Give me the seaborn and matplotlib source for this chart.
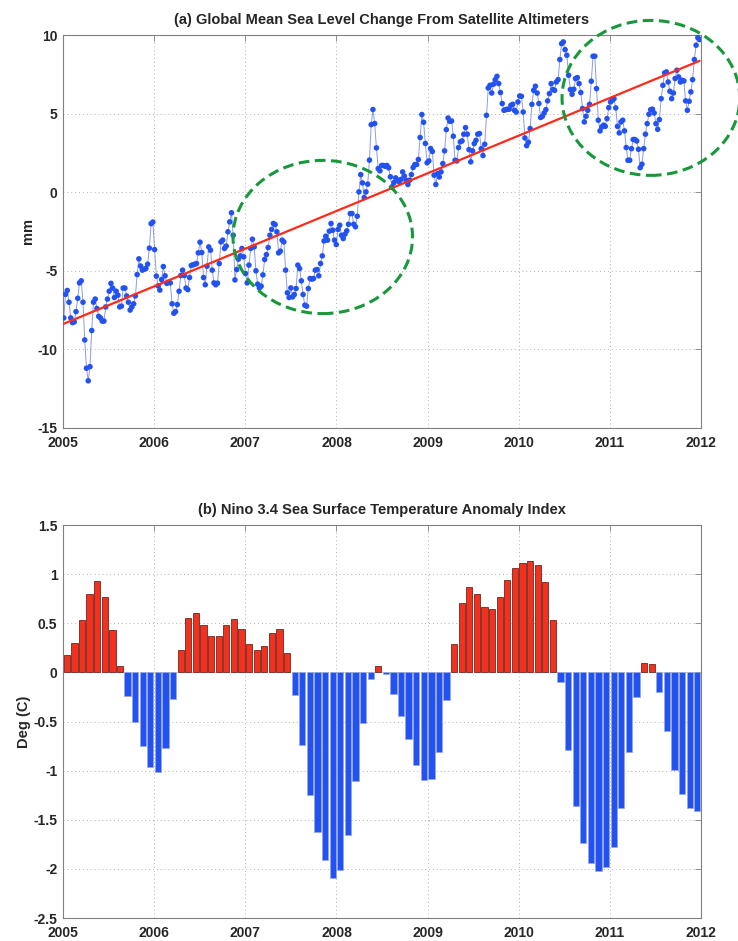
import numpy as np
import pandas as pd
import matplotlib
matplotlib.use("Agg")
import matplotlib.pyplot as plt
import seaborn as sns
from matplotlib.patches import Ellipse
from matplotlib.ticker import FuncFormatter

# --- Datos: nivel medio del mar (mm), muestras semanales desde 2005 ---
sea_level_mm = [
    -8.0, -6.5, -6.25, -7.0, -8.0, -8.3, -8.25, -7.6, -6.75, -5.77,
    -5.64, -7.0, -9.4, -11.2, -12.0, -11.1, -8.8, -7.0, -6.8, -7.4,
    -7.9, -8.0, -8.2, -8.2, -7.3, -6.8, -6.3, -5.8, -6.1, -6.7,
    -6.3, -6.55, -7.3, -7.25, -6.1, -6.1, -6.6, -7.0, -7.5, -7.3,
    -7.1, -6.6, -5.24, -4.24, -4.7, -4.96, -4.9, -4.86, -4.58, -3.56,
    -2.0, -1.9, -3.65, -5.34, -5.96, -6.23, -5.56, -4.73, -5.32, -5.8,
    -5.73, -5.77, -7.1, -7.7, -7.6, -7.15, -6.3, -5.3, -4.96, -5.3,
    -6.1, -6.2,
    -5.43, -4.66, -4.62, -4.58, -4.54, -3.86, -3.18, -3.84, -5.43, -5.89,
    -4.71, -3.48, -3.69, -4.96, -5.77, -5.89, -5.79, -4.54, -3.16, -3.05,
    -3.58, -3.43, -2.52, -1.89, -1.31, -2.74, -5.58, -4.92, -4.26, -4.05,
    -3.58, -4.11, -5.17, -5.77, -4.64, -3.58, -2.99, -3.48, -5.0, -5.85,
    -6.09, -5.98, -5.26, -4.28, -3.97, -3.52, -2.74, -2.37, -1.99, -2.06,
    -2.52, -3.86, -3.75, -3.05, -3.16, -4.96, -6.4, -6.7, -6.09, -6.66,
    -6.51, -6.13, -4.64, -4.86, -5.64, -6.51, -7.19, -7.25, -6.13, -5.49,
    -5.53, -5.49,
    -4.96, -4.92, -5.32, -4.54,
    -4.05, -3.1, -2.8, -3.05, -2.48, -1.99, -2.42, -3.05, -3.33, -2.37,
    -2.1, -2.74, -2.95, -2.67, -2.46, -2.04, -1.36, -1.36, -2.04, -2.2,
    -1.53, 0.02, 1.12, 0.59, -0.34, 0.02, 0.51, 2.04, 4.3, 5.26,
    4.37, 2.82, 1.5, 1.36, 1.7, 1.7, 1.65, 1.7, 1.55, 0.98,
    0.34, 0.61, 0.91, 0.76, 0.66, 0.81, 1.29, 1.02, 0.76, 0.49,
    0.76, 1.12, 1.57, 1.76, 1.76, 2.08, 3.48, 4.94, 4.45, 3.1,
    1.87, 1.99, 2.78, 2.59, 1.08, 0.49,
    1.18, 0.97, 1.29, 1.82, 2.63, 3.98, 4.72, 4.51, 4.53, 3.56,
    2.03, 1.99, 2.84, 3.2, 3.26, 3.69, 4.11, 3.69, 2.71, 1.93,
    2.63, 3.09, 3.3, 3.69, 3.73, 2.77, 2.33, 3.05, 4.89, 6.63,
    6.8, 6.31, 6.87, 7.16, 7.37, 6.91, 6.34, 5.64, 5.21, 5.25,
    5.28, 5.28, 5.53, 5.59, 5.21, 5.1, 5.74, 6.12, 6.1, 5.1,
    3.45, 2.96, 3.18, 4.05, 5.59, 6.48, 6.74, 6.31, 5.64, 4.75,
    4.83, 5.04, 5.25, 5.81, 6.27, 6.91, 6.53, 6.48, 7.01, 7.16,
    8.44, 9.45, 9.56, 9.07,
    8.71, 7.44, 6.53, 6.23, 6.55, 7.23, 7.29, 6.91, 6.34, 5.32,
    4.47, 4.83, 5.21, 5.59, 7.06, 8.65, 8.65, 6.59, 4.58, 3.9,
    4.15, 4.26, 4.19, 4.68, 5.38, 5.74, 5.85, 5.95, 5.36, 4.19,
    3.77, 4.47, 4.58, 3.9, 2.84, 2.03, 2.03, 2.77, 3.35, 3.35,
    3.26, 2.73, 1.56, 1.78, 2.77, 3.69, 4.36, 4.96, 5.25, 5.28,
    5.04, 4.36, 4.0, 4.62, 5.95, 6.8, 7.59, 7.65, 7.01, 6.42,
    5.95, 6.31, 7.23, 7.76, 7.33, 7.01, 7.12, 7.08, 5.81, 5.21,
    5.78, 6.38, 7.16, 8.44, 9.35, 9.83, 9.71,
]

# --- Datos: indice Nino 3.4 mensual (C), ene 2005 - dic 2011 ---
nino34_anom = [
    0.18, 0.30, 0.53, 0.80, 0.93, 0.77, 0.43, 0.07, -0.24, -0.50, -0.75, -0.96,
    -1.01, -0.77, -0.27, 0.23, 0.55, 0.60, 0.48, 0.37, 0.37, 0.48, 0.54, 0.44,
    0.29, 0.23, 0.27, 0.40, 0.44, 0.20, -0.23, -0.74, -1.25, -1.62, -1.91, -2.09,
    -2.01, -1.65, -1.11, -0.51, -0.07, 0.07, -0.02, -0.22, -0.44, -0.68, -0.94, -1.09,
    -1.08, -0.81, -0.28, 0.29, 0.71, 0.87, 0.80, 0.67, 0.65, 0.77, 0.94, 1.06,
    1.11, 1.13, 1.09, 0.92, 0.53, -0.10, -0.79, -1.36, -1.74, -1.94, -2.02, -1.98,
    -1.78, -1.38, -0.81, -0.25, 0.10, 0.085, -0.20, -0.60, -0.99, -1.24, -1.38, -1.41,
]

year_ticks = [2005, 2006, 2007, 2008, 2009, 2010, 2011, 2012]

# --- Tablas ---
fechas = pd.date_range("2005-01-04", periods=len(sea_level_mm), freq="7D")
df_sl = pd.DataFrame({
    "t": 2005 + (fechas - pd.Timestamp("2005-01-01")).days / 365.25,
    "mm": sea_level_mm,
})
meses = pd.date_range("2005-01-01", periods=len(nino34_anom), freq="MS")
df_nino = pd.DataFrame({
    "t": meses.year + (meses.month - 0.5) / 12,
    "anom": nino34_anom,
})
df_nino["signo"] = np.where(df_nino["anom"] >= 0, "pos", "neg")

# --- Estilo ---
sns.set_style("white")
plt.rcParams["font.family"] = ["Liberation Sans", "DejaVu Sans"]
plt.rcParams["font.weight"] = "bold"
plt.rcParams["axes.unicode_minus"] = False

AZUL = "#2352f2"
ROJO = "#f4311f"
VERDE = "#17983a"
GRIS = "#808080"

fig = plt.figure(figsize=(7.38, 9.41), dpi=100)
ax1 = fig.add_axes([0.0854, 0.5452, 0.8645, 0.4176])
ax2 = fig.add_axes([0.0854, 0.0244, 0.8645, 0.4176])

# --- (a) nivel del mar ---
sns.lineplot(data=df_sl, x="t", y="mm", color="#8c9ce6", linewidth=0.7, ax=ax1, zorder=2)
sns.scatterplot(data=df_sl, x="t", y="mm", color=AZUL, s=16, edgecolor="none", ax=ax1, zorder=3)
sns.regplot(data=df_sl, x="t", y="mm", scatter=False, ci=None, truncate=True,
            line_kws=dict(color="#ff2a1a", lw=1.6, zorder=4), ax=ax1)

# elipses que marcan los dos periodos
for cx, cy, w, h in [(2007.85, -2.85, 1.97, 9.75), (2011.45, 6.0, 1.95, 9.86)]:
    ax1.add_patch(Ellipse((cx, cy), w, h, fill=False, edgecolor=VERDE, lw=2.2,
                          linestyle=(0, (3.5, 1.8)), clip_on=False, zorder=5))

ax1.set_xlim(2005, 2012)
ax1.set_ylim(-15, 10)
ax1.set_yticks([-15, -10, -5, 0, 5, 10])
ax1.set_ylabel("mm", fontsize=10.5, fontweight="bold", labelpad=2)
ax1.set_title("(a) Global Mean Sea Level Change From Satellite Altimeters",
              fontsize=10.5, fontweight="bold", pad=8)

# --- (b) Nino 3.4 ---
sns.barplot(data=df_nino, x="t", y="anom", hue="signo", palette={"pos": ROJO, "neg": AZUL},
            native_scale=True, dodge=False, width=0.82, errorbar=None, saturation=1,
            legend=False, ax=ax2, zorder=3)
for barra in ax2.patches:
    if barra.get_height() > 0:
        barra.set_edgecolor("#6b2a22")
        barra.set_linewidth(0.6)
    else:
        barra.set_edgecolor("#9aa6dc")
        barra.set_linewidth(0.5)

ax2.set_xlim(2005, 2012)
ax2.set_ylim(-2.5, 1.5)
ax2.set_yticks(np.arange(-2.5, 1.51, 0.5))
ax2.yaxis.set_major_formatter(FuncFormatter(lambda v, p: f"{v:g}"))
ax2.set_ylabel("Deg (C)", fontsize=10.5, fontweight="bold", labelpad=2)
ax2.set_title("(b) Nino 3.4 Sea Surface Temperature Anomaly Index",
              fontsize=10.5, fontweight="bold", pad=8)

for ax in (ax1, ax2):
    ax.set_xticks(year_ticks)
    ax.set_xlabel("")
    ax.grid(True, linestyle=(0, (1, 3)), color="#b0b0b0", linewidth=0.7)
    ax.set_axisbelow(True)
    ax.tick_params(direction="in", top=True, right=True, length=4, width=0.6,
                   color=GRIS, labelsize=10, pad=4)
    ax.tick_params(axis="x", pad=6)
    for s in ax.spines.values():
        s.set_color(GRIS)
        s.set_linewidth(0.8)

fig.savefig("out.png", dpi=100)
